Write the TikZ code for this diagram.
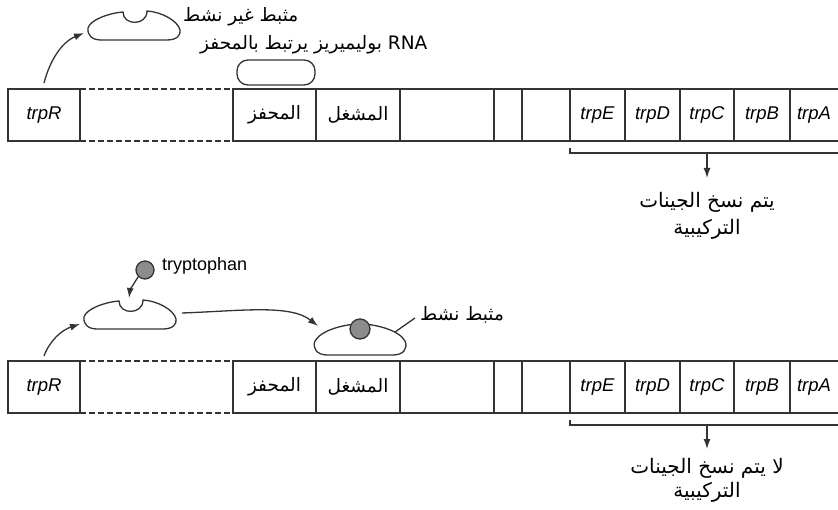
\documentclass[tikz,border=0pt]{standalone}
\usepackage{fontspec}
\setmainfont{Liberation Sans}
\newfontfamily\arabicfont[Script=Arabic]{DejaVu Sans}
\TeXXeTstate=1
\usetikzlibrary{arrows.meta}
\newcommand{\artxt}[1]{{\arabicfont\beginR #1\endR}}
\newcommand{\trpname}[1]{\textit{trp#1}}
\tikzset{
  ln/.style={line width=1.3pt, draw=black!80},
  gbox/.style={ln, draw, inner sep=0pt, outer sep=0pt, anchor=north west, minimum height=52pt, font=\fontsize{18.5}{20}\selectfont},
  obox/.style={gbox, draw=none},
  arlbl/.style={font=\arabicfont\fontsize{18.5}{20}\selectfont, inner sep=0pt},
  tip/.style={-{Latex[length=10pt,width=7pt]}},
  inactrep/.pic={\draw[ln, fill=white] (14,31) -- (80,31) .. controls (90,31) and (94,26) .. (93,21) .. controls (91,12) and (75,3) .. (60,2) .. controls (60,17) and (36,17) .. (36,3) .. controls (22,4) and (3,11) .. (1,19) .. controls (0,26) and (5,31) .. (14,31) -- cycle;},
  actrep/.pic={\draw[ln, fill=white] (14,33) -- (80,33) .. controls (91,33) and (95,26) .. (92,19) .. controls (86,8) and (62,2) .. (47,2) .. controls (32,2) and (8,8) .. (2,19) .. controls (-1,26) and (4,33) .. (14,33) -- cycle;},
}
\newcommand{\genestrip}[2]{%
  \node[gbox, minimum width=72pt] (#1R) at (8,#2) {\trpname{R}};
  \node[gbox, minimum width=83pt] (#1P) at (233,#2) {\artxt{المحفز}};
  \node[gbox, minimum width=84pt] (#1O) at (316,#2) {\artxt{المشغل}};
  \node[gbox, minimum width=94pt] (#1X) at (400,#2) {};
  \node[gbox, minimum width=28pt] (#1Y) at (494,#2) {};
  \node[gbox, minimum width=48pt] (#1Z) at (522,#2) {};
  \node[gbox, minimum width=55pt] (#1E) at (570,#2) {\trpname{E}};
  \node[gbox, minimum width=55pt] (#1D) at (625,#2) {\trpname{D}};
  \node[gbox, minimum width=54pt] (#1C) at (680,#2) {\trpname{C}};
  \node[gbox, minimum width=56pt] (#1B) at (734,#2) {\trpname{B}};
  \node[obox, minimum width=48pt] (#1A) at (790,#2) {\trpname{A}};
  \draw[ln] (#1B.north east) -- (#1A.north east);
  \draw[ln] (#1B.south east) -- (#1A.south east);
  \draw[ln, dash pattern=on 6pt off 3pt] (#1R.north east) -- (#1P.north west);
  \draw[ln, dash pattern=on 6pt off 3pt] (#1R.south east) -- (#1P.south west);
  \draw[ln] ([yshift=-7pt]#1E.south west) -- ([yshift=-12pt]#1E.south west) -- ([yshift=-12pt]#1A.south east);
}
\begin{document}
\begin{tikzpicture}[x=1pt,y=-1pt]
\useasboundingbox (0,0) rectangle (838,510);
% top panel
\genestrip{t}{89}
\pic at (87,9) {inactrep};
\coordinate (trep) at (84,33);
\draw[ln, tip] ([yshift=6pt]tR.north) .. controls (50,60) and (62,42) .. (trep);
\node[arlbl, anchor=west] (tlab) at (183,17) {\artxt{مثبط غير نشط}};
\node[arlbl, anchor=west] (rnalab) at (200,45) {\arabicfont\beginR \beginL RNA\endL{} بوليميريز يرتبط بالمحفز\endR};
\node[ln, draw, rounded corners=11pt, minimum width=78pt, minimum height=25pt, inner sep=0pt] (pol) at (276,72.5) {};
\node[arlbl, align=center, font=\arabicfont\fontsize{20}{27}\selectfont] (ttxt) at (707,216) {\beginR يتم نسخ الجينات\endR\\\beginR التركيبية\endR};
\draw[ln, tip] ([yshift=-12pt]tC.south) -- ([yshift=-37pt]tC.south);
% bottom panel
\genestrip{b}{361}
\pic at (83,298) {inactrep};
\coordinate (brep) at (80,324);
\draw[ln, tip] ([yshift=5pt]bR.north) .. controls (50,340) and (62,330) .. (brep);
\node[ln, draw, circle, fill=black!45, minimum size=18pt, inner sep=0pt] (trp) at (145,270) {};
\node[inner sep=0pt, anchor=west, font=\fontsize{18}{20}\selectfont] (trplab) at (162,266) {tryptophan};
\coordinate (notch) at (129,298);
\draw[ln, tip] (trp.south west) .. controls (133,285) and (130,290) .. (notch);
\coordinate (from) at (182,313);
\pic at (313,322) {actrep};
\node[ln, draw, circle, fill=black!45, minimum size=20pt, inner sep=0pt] (trp2) at (360,329) {};
\coordinate (to) at (318,326);
\draw[ln, tip] (from) .. controls (240,311) and (290,304) .. (to);
\node[arlbl, anchor=west] (alab) at (420,315) {\artxt{مثبط نشط}};
\coordinate (aline) at (395,332);
\draw[ln] (aline) -- ([xshift=-5pt,yshift=-3pt]alab.west);
\node[arlbl, align=center, font=\arabicfont\fontsize{20}{24}\selectfont] (btxt) at (707,480) {\beginR لا يتم نسخ الجينات\endR\\\beginR التركيبية\endR};
\draw[ln, tip] ([yshift=-12pt]bC.south) -- ([yshift=-36pt]bC.south);
\end{tikzpicture}
\end{document}
